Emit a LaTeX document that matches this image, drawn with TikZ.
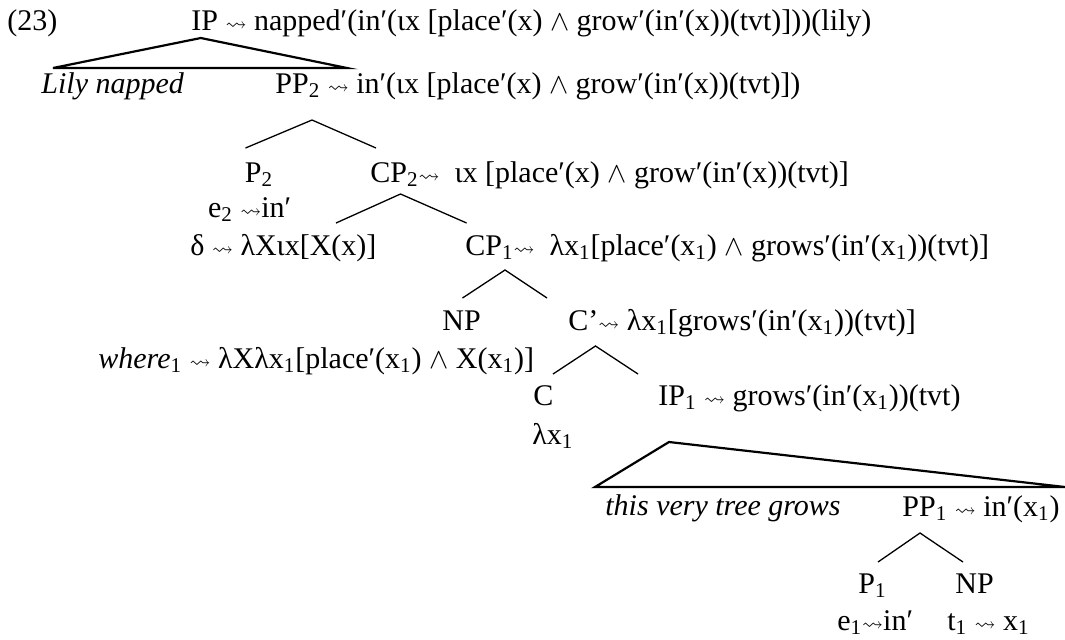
\documentclass[tikz,border=0pt]{standalone}
\usepackage{amsmath,amssymb}
\usepackage{fontspec}
\setmainfont{Liberation Serif}
\usepackage{tikz}
\usetikzlibrary{positioning}

\newcommand{\lto}{\ensuremath{\scriptstyle\rightsquigarrow}}
\newcommand{\sub}[1]{\textsubscript{#1}}
\newcommand{\mand}{\ensuremath{\wedge}}

\begin{document}
\begin{tikzpicture}[
          x=0.5pt, y=-0.5pt,
          lbl/.style={font=\fontsize{15}{18}\selectfont, anchor=base west, inner sep=0pt},
          br/.style={line width=0.65pt},
          tri/.style={line width=1.1pt, line join=miter}
      ]
        \useasboundingbox (0,0) rectangle (1065,639);
        % labels, row by row
        \node[lbl] (ex) at (7,30) {(23)};
        \node[lbl] (ip) at (191,30) {IP \lto{} napped′(in′(ιx [place′(x) \mand{} grow′(in′(x))(tvt)]))(lily)};
        \node[lbl] (lily) at (41,93) {\textit{Lily napped}};
        \node[lbl] (pp2) at (275,93) {PP\sub{2} \lto{} in′(ιx [place′(x) \mand{} grow′(in′(x))(tvt)])};
        \node[lbl] (p2) at (244.5,182) {P\sub{2}};
        \node[lbl] (cp2) at (370,182) {CP\sub{2}\lto{}\ \ ιx [place′(x) \mand{} grow′(in′(x))(tvt)]};
        \node[lbl] (e2) at (207.6,217) {e\sub{2} \lto{}in′};
        \node[lbl] (delta) at (190,255) {δ \lto{} λXιx[X(x)]};
        \node[lbl] (cp1) at (465,255) {CP\sub{1}\lto{}\ \ λx\sub{1}[place′(x\sub{1}) \mand{} grows′(in′(x\sub{1}))(tvt)]};
        \node[lbl] (np) at (442,330) {NP};
        \node[lbl] (cbar) at (568,330) {C’\lto{} λx\sub{1}[grows′(in′(x\sub{1}))(tvt)]};
        \node[lbl] (where) at (98,368) {\textit{where}\sub{1} \lto{} λXλx\sub{1}[place′(x\sub{1}) \mand{} X(x\sub{1})]};
        \node[lbl] (c) at (533,405) {C};
        \node[lbl] (ip1) at (658,405) {IP\sub{1} \lto{} grows′(in′(x\sub{1}))(tvt)};
        \node[lbl] (lx) at (532,444) {λx\sub{1}};
        \node[lbl] (tvtg) at (605,515) {\textit{this very tree grows}};
        \node[lbl] (pp1) at (902,516) {PP\sub{1} \lto{} in′(x\sub{1})};
        \node[lbl] (p1) at (858,593) {P\sub{1}};
        \node[lbl] (np1) at (955,593) {NP};
        \node[lbl] (e1) at (837,630) {e\sub{1}\lto{}in′};
        \node[lbl] (t1) at (947,630) {t\sub{1} \lto{} x\sub{1}};
        % branch points
        \coordinate (ip-top) at (200.8,38);
        \coordinate (ip-l) at (53,68);
        \coordinate (ip-r) at (347,68);
        \coordinate (pp2-top) at (312,120);
        \coordinate (pp2-l) at (245.5,148);
        \coordinate (pp2-r) at (376,148);
        \coordinate (cp2-top) at (400.5,194);
        \coordinate (cp2-l) at (336,223);
        \coordinate (cp2-r) at (466.6,223);
        \coordinate (cp1-top) at (505,270);
        \coordinate (cp1-l) at (462.5,298);
        \coordinate (cp1-r) at (547,298);
        \coordinate (cbar-top) at (595.5,346);
        \coordinate (cbar-l) at (553,374);
        \coordinate (cbar-r) at (638,374);
        \coordinate (ip1-top) at (669,442);
        \coordinate (ip1-l) at (595,487);
        \coordinate (ip1-r) at (1065,487);
        \coordinate (pp1-top) at (920,533);
        \coordinate (pp1-l) at (878,562);
        \coordinate (pp1-r) at (963,562);
        % triangles and branches
        \draw[tri] (ip-top) -- (ip-l) -- (ip-r) -- cycle;
        \draw[tri] (ip1-top) -- (ip1-l) -- (ip1-r) -- cycle;
        \draw[br] (pp2-l) -- (pp2-top) -- (pp2-r);
        \draw[br] (cp2-l) -- (cp2-top) -- (cp2-r);
        \draw[br] (cp1-l) -- (cp1-top) -- (cp1-r);
        \draw[br] (cbar-l) -- (cbar-top) -- (cbar-r);
        \draw[br] (pp1-l) -- (pp1-top) -- (pp1-r);
      \end{tikzpicture}
\end{document}
